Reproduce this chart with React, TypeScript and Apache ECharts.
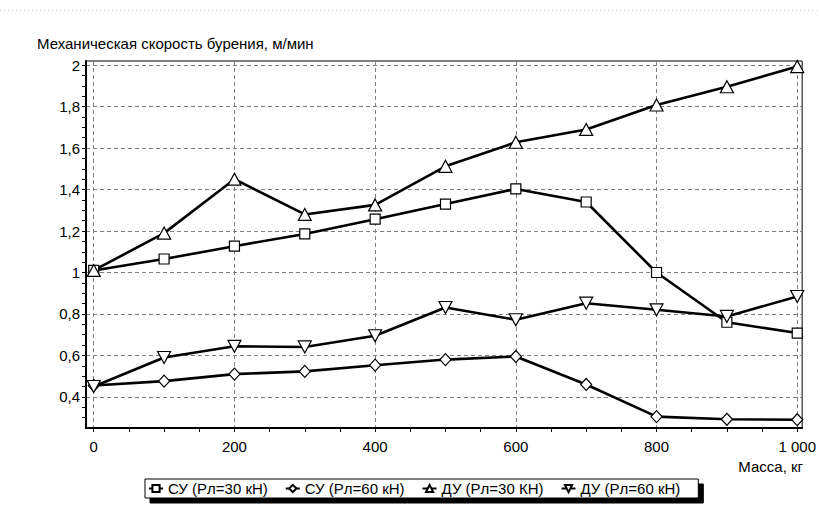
import React, { useEffect, useRef } from "react";
import * as echarts from "echarts";

// ---- data ----
const massKg = [0, 100, 200, 300, 400, 500, 600, 700, 800, 900, 1000];
const su30 = [1.01, 1.065, 1.127, 1.186, 1.257, 1.33, 1.403, 1.34, 1.0, 0.76, 0.708];
const su60 = [0.455, 0.476, 0.51, 0.523, 0.553, 0.58, 0.595, 0.46, 0.305, 0.292, 0.29];
const du30 = [1.01, 1.19, 1.45, 1.28, 1.326, 1.512, 1.628, 1.69, 1.808, 1.896, 1.993];
const du60 = [0.45, 0.59, 0.644, 0.641, 0.695, 0.831, 0.772, 0.852, 0.82, 0.788, 0.884];

const seriesNames = ["СУ (Рл=30 кН)", "СУ (Рл=60 кН)", "ДУ (Рл=30 КН)", "ДУ (Рл=60 кН)"];

const xLabelValues = [0, 200, 400, 600, 800, 1000];
const xTickValues = [0, 50, 100, 150, 200, 250, 300, 350, 400, 450, 500, 550, 600, 650, 700, 750, 800, 850, 900, 950, 1000];
const yLabelValues = [0.4, 0.6, 0.8, 1, 1.2, 1.4, 1.6, 1.8, 2];
const yTickValues = [0.3, 0.35, 0.4, 0.45, 0.5, 0.55, 0.6, 0.65, 0.7, 0.75, 0.8, 0.85, 0.9, 0.95, 1, 1.05, 1.1, 1.15, 1.2, 1.25, 1.3, 1.35, 1.4, 1.45, 1.5, 1.55, 1.6, 1.65, 1.7, 1.75, 1.8, 1.85, 1.9, 1.95, 2];

const yTitle = "Механическая скорость бурения, м/мин";
const xTitle = "Масса, кг";

const FONT = "Liberation Sans, Arial, sans-serif";
const FS = 15;

function fmtRu(v: number): string {
  const r = Math.round(v * 100) / 100;
  let s = String(r).replace(".", ",");
  const parts = s.split(",");
  parts[0] = parts[0].replace(/\B(?=(\d{3})+(?!\d))/g, " ");
  return parts.join(",");
}

export default function App() {
  const ref = useRef<HTMLDivElement>(null);
  useEffect(() => {
    if (!ref.current) return;
    const chart = echarts.init(ref.current, null, { renderer: "svg" });
    const mk = (ys: number[]) => massKg.map((x, i) => [x, ys[i]]);
    const lineStyle = { color: "#000", width: 2.6 };
    const itemStyle = { color: "#fff", borderColor: "#000", borderWidth: 1.2 };
    const common = {
      type: "line",
      xAxisIndex: 0,
      yAxisIndex: 0,
      showAllSymbol: true,
      lineStyle,
      itemStyle,
      emphasis: { disabled: true },
    };
    chart.setOption({
      animation: false,
      backgroundColor: "#fff",
      textStyle: { fontFamily: FONT },
      grid: {
        left: 86,
        top: 61,
        right: 12,
        bottom: 94,
        show: true,
        borderColor: "#000",
        borderWidth: 1,
        backgroundColor: "#fff",
      },
      xAxis: [
        {
          type: "value",
          min: -11,
          max: 1007,
          position: "bottom",
          axisLine: { show: true, onZero: false, lineStyle: { color: "#000", width: 2 } },
          axisTick: { show: true, length: 4, customValues: xTickValues, lineStyle: { color: "#000" } },
          axisLabel: {
            show: true,
            customValues: xLabelValues,
            margin: 11,
            color: "#000",
            fontSize: FS,
            fontFamily: FONT,
            formatter: (v: number) => fmtRu(v),
          },
          splitLine: { show: false },
        },
        {
          type: "value",
          min: -11,
          max: 1007,
          position: "top",
          axisLine: { show: false },
          axisTick: { show: false, customValues: xLabelValues },
          axisLabel: { show: false },
          splitLine: { show: true, lineStyle: { color: "#808080", type: [4, 3], width: 1 } },
        },
      ],
      yAxis: [
        {
          type: "value",
          min: 0.25,
          max: 2.02,
          position: "left",
          axisLine: { show: true, onZero: false, lineStyle: { color: "#000", width: 2 } },
          axisTick: { show: true, length: 4, customValues: yTickValues, lineStyle: { color: "#000" } },
          axisLabel: {
            show: true,
            customValues: yLabelValues,
            margin: 6,
            color: "#000",
            fontSize: FS,
            fontFamily: FONT,
            formatter: (v: number) => fmtRu(v),
          },
          splitLine: { show: false },
        },
        {
          type: "value",
          min: 0.25,
          max: 2.02,
          position: "right",
          axisLine: { show: false },
          axisTick: { show: false, customValues: yLabelValues },
          axisLabel: { show: false },
          splitLine: { show: true, lineStyle: { color: "#808080", type: [4, 3], width: 1 } },
        },
      ],
      legend: {
        left: 145,
        top: 479,
        orient: "horizontal",
        padding: [2, 18, 2, 3],
        itemGap: 17,
        itemWidth: 14,
        itemHeight: 9,
        backgroundColor: "#fff",
        borderColor: "#000",
        borderWidth: 1,
        borderRadius: 0,
        shadowColor: "#000",
        shadowBlur: 0,
        shadowOffsetX: 5,
        shadowOffsetY: 5,
        textStyle: { color: "#000", fontSize: FS, fontFamily: FONT },
        data: seriesNames,
      },
      graphic: [
        {
          type: "line",
          shape: { x1: 0, y1: 10.5, x2: 819, y2: 10.5 },
          style: { stroke: "#d9d5b5", lineWidth: 1, lineDash: [1, 3] },
          silent: true,
        },
        {
          type: "text",
          x: 37,
          y: 43,
          style: { text: yTitle, fill: "#000", font: `${FS}px ${FONT}`, verticalAlign: "middle", align: "left" },
          silent: true,
        },
        {
          type: "text",
          x: 803,
          y: 466,
          style: { text: xTitle, fill: "#000", font: `${FS}px ${FONT}`, verticalAlign: "middle", align: "right" },
          silent: true,
        },
      ],
      series: [
        { ...common, name: seriesNames[0], data: mk(su30), symbol: "rect", symbolSize: 10 },
        { ...common, name: seriesNames[1], data: mk(su60), symbol: "diamond", symbolSize: [11, 12] },
        { ...common, name: seriesNames[2], data: mk(du30), symbol: "triangle", symbolSize: [13, 12] },
        { ...common, name: seriesNames[3], data: mk(du60), symbol: "triangle", symbolRotate: 180, symbolSize: [13, 12] },
      ],
    });
    return () => chart.dispose();
  }, []);
  return (
    <div
      ref={ref}
      style={{ position: "absolute", left: 0, top: 0, width: 819, height: 522 }}
    />
  );
}
